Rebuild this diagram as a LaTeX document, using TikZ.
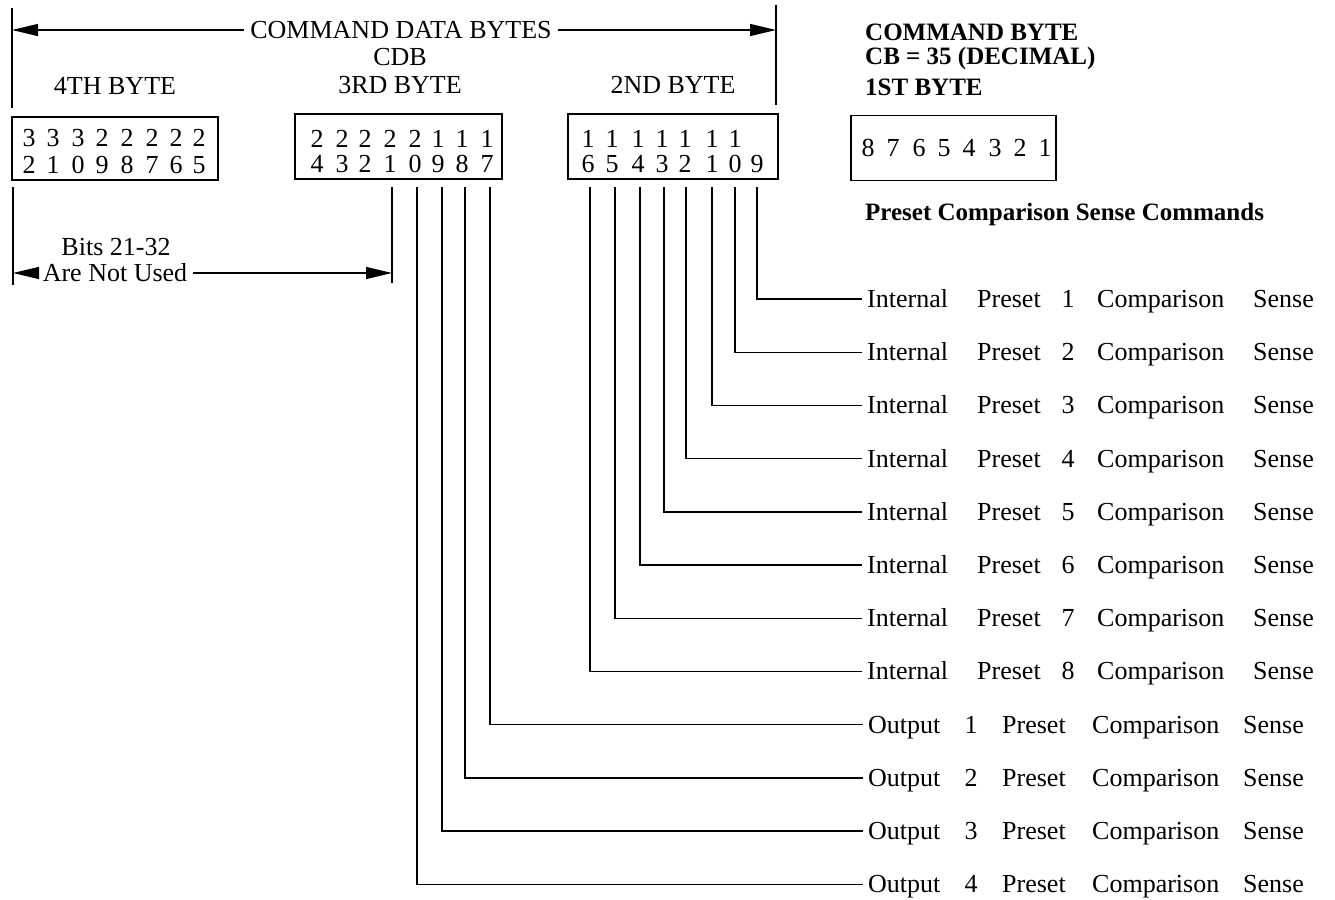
\documentclass[tikz,border=0pt]{standalone}
\usepackage{fontspec}
\setmainfont{Liberation Serif}
\usetikzlibrary{arrows.meta}
\begin{document}
\begin{tikzpicture}[x=1pt,y=-1pt,
  txt/.style={font=\fontsize{26}{30}\selectfont, inner sep=0pt},
  btxt/.style={font=\fontsize{25}{30}\selectfont\bfseries, anchor=west, inner sep=0pt},
  dig/.style={font=\fontsize{26}{30}\selectfont, inner sep=0pt},
  bytebox/.style={draw, line width=1.1pt, inner sep=0pt},
  wire/.style={line width=1.4pt},
  bigarrow/.style={line width=1.4pt, -{Triangle[length=26pt,width=12pt]}},
  word/.style={font=\fontsize{26}{30}\selectfont, inner sep=0pt, anchor=base west},
  num/.style={font=\fontsize{26}{30}\selectfont, inner sep=0pt, anchor=base},
  first/.style={font=\fontsize{26}{30}\selectfont, inner xsep=5pt, inner ysep=0pt, anchor=west, text height=17pt, text depth=0pt}
]
\useasboundingbox (0,0) rectangle (1335,899);

% ---- header: command data bytes ----
\coordinate (tl1) at (12,8);
\coordinate (tl2) at (12,108);
\coordinate (tr1) at (776,5);
\coordinate (tr2) at (776,105);
\draw[wire] (tl1) -- (tl2);
\draw[wire] (tr1) -- (tr2);
\node[txt, inner xsep=6pt] (cdbt) at (401,30) {COMMAND DATA BYTES};
\draw[bigarrow] (cdbt.west) -- (cdbt.west -| tl1);
\draw[bigarrow] (cdbt.east) -- (cdbt.east -| tr1);
\node[txt] (cdb) at (400,57) {CDB};
\node[txt] (b4l) at (115,86) {4TH BYTE};
\node[txt] (b3l) at (400,85) {3RD BYTE};
\node[txt] (b2l) at (673,85) {2ND BYTE};

\node[btxt] (cb1) at (865,32) {COMMAND BYTE};
\node[btxt] (cb2) at (865,58) {CB = 35 (DECIMAL)};
\node[btxt] (cb3) at (865,87) {1ST BYTE};
\node[btxt] (pcs) at (865,214) {Preset Comparison Sense Commands};

% ---- byte boxes ----
\node[bytebox, minimum width=206pt, minimum height=63pt] (B4) at (115,148.5) {};
\node[bytebox, minimum width=207pt, minimum height=65pt] (B3) at (398.5,146.5) {};
\node[bytebox, minimum width=210pt, minimum height=65pt] (B2) at (673,146.5) {};
\node[bytebox, minimum width=205pt, minimum height=65pt] (B1) at (953.5,148) {};

% 4th byte digits
\foreach \x/\a/\b [count=\i] in {29/3/2,53/3/1,78/3/0,102/2/9,127/2/8,152/2/7,176/2/6,199/2/5}{
  \node[dig] (da\i) at (\x,138) {\a};
  \node[dig] (db\i) at (\x,165) {\b};
}
% 3rd byte digits
\foreach \x/\a/\b [count=\i] in {317/2/4,342/2/3,365/2/2,390/2/1,415/2/0,438/1/9,462/1/8,487/1/7}{
  \node[dig] (dc\i) at (\x,139) {\a};
  \node[dig] (dd\i) at (\x,164) {\b};
}
% 2nd byte digits
\foreach \x/\b [count=\i] in {588/6,612/5,638/4,662/3,685/2,712/1,735/0,757/9}{
  \node[dig] (df\i) at (\x,164) {\b};
}
\foreach \x [count=\i] in {588,612,638,662,685,712,735}{
  \node[dig] (de\i) at (\x,139) {1};
}
% 1st byte digits
\foreach \x/\b [count=\i] in {868/8,893/7,919/6,944/5,969/4,995/3,1020/2,1045/1}{
  \node[dig] (dg\i) at (\x,148) {\b};
}

% ---- bits 21-32 not used ----
\coordinate (nl1) at (13,187);
\coordinate (nl2) at (13,285);
\coordinate (nr1) at (392,187);
\coordinate (nr2) at (392,283);
\draw[wire] (nl1) -- (nl2);
\draw[wire] (nr1) -- (nr2);
\node[txt] (bits) at (116,247) {Bits 21-32};
\node[txt, inner xsep=6pt] (anu) at (115,273) {Are Not Used};
\draw[bigarrow] (anu.west) -- (anu.west -| nl1);
\draw[bigarrow] (anu.east) -- (anu.east -| nr1);

% ---- internal preset rows ----
\foreach \k/\bx in {1/757,2/735,3/712,4/686,5/664,6/640,7/615,8/590}{
  \pgfmathsetmacro\yy{299+53.2*(\k-1)}
  \pgfmathsetmacro\yb{\yy+8.5}
  \coordinate (it\k) at (\bx,187);
  \node[first] (iw\k) at (862,\yy) {Internal};
  \node[word] (ip\k) at (977,\yb) {Preset};
  \node[num] (in\k) at (1068,\yb) {\k};
  \node[word] (ic\k) at (1097,\yb) {Comparison};
  \node[word] (is\k) at (1253,\yb) {Sense};
  \draw[wire] (it\k) |- (iw\k.west);
}

% ---- output preset rows ----
\foreach \k/\bx in {1/490,2/465,3/442,4/417}{
  \pgfmathsetmacro\yy{299+53.2*(\k+7)}
  \pgfmathsetmacro\yb{\yy+8.5}
  \coordinate (ot\k) at (\bx,187);
  \node[first] (ow\k) at (863,\yy) {Output};
  \node[num] (on\k) at (971,\yb) {\k};
  \node[word] (op\k) at (1002,\yb) {Preset};
  \node[word] (oc\k) at (1092,\yb) {Comparison};
  \node[word] (os\k) at (1243,\yb) {Sense};
  \draw[wire] (ot\k) |- (ow\k.west);
}
\end{tikzpicture}
\end{document}
